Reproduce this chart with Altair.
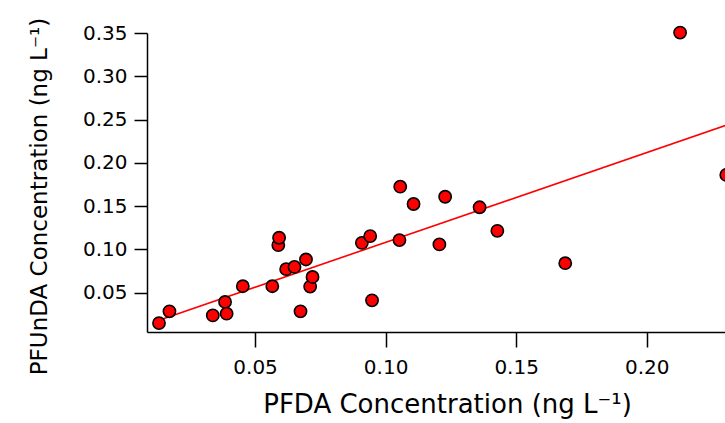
import altair as alt
import pandas as pd

pfda = [0.0132, 0.0172, 0.0338, 0.0385, 0.0391, 0.0453, 0.0566, 0.0589, 0.0592,
        0.0619, 0.0651, 0.0674, 0.0695, 0.0711, 0.0720, 0.0909, 0.0941, 0.0948,
        0.1056, 0.1053, 0.1107, 0.1206, 0.1228, 0.1360, 0.1428, 0.1688, 0.2128, 0.2305]
pfunda = [0.0148, 0.0284, 0.0237, 0.0392, 0.0257, 0.0574, 0.0574, 0.1049, 0.1134,
          0.0771, 0.0797, 0.0284, 0.0883, 0.0570, 0.0681, 0.1075, 0.1153, 0.0411,
          0.1724, 0.1107, 0.1524, 0.1057, 0.1608, 0.1486, 0.1214, 0.0840, 0.3505, 0.1860]

x_ticks = [0.05, 0.10, 0.15, 0.20]
y_ticks = [0.05, 0.10, 0.15, 0.20, 0.25, 0.30, 0.35]

df = pd.DataFrame({"PFDA": pfda, "PFUnDA": pfunda})

FONT = "DejaVu Sans"

xenc = alt.X("PFDA:Q",
             scale=alt.Scale(domain=[0.0086, 0.2300], nice=False, zero=False),
             axis=alt.Axis(values=x_ticks, format=".2f", title="PFDA Concentration (ng L⁻¹)",
                           tickSize=15, labelPadding=10, titlePadding=14,
                           titleFontSize=26, titleX=300))
yenc = alt.Y("PFUnDA:Q",
             scale=alt.Scale(domain=[0.0045, 0.35], nice=False, zero=False),
             axis=alt.Axis(values=y_ticks, format=".2f", title="PFUnDA Concentration (ng L⁻¹)",
                           tickSize=13, labelPadding=7, titlePadding=31,
                           titleFontSize=23, titleY=163))

line = alt.Chart(df).transform_regression("PFDA", "PFUnDA").mark_line(
    color="#ff0000", strokeWidth=1.6, clip=True
).encode(x=xenc, y=yenc)

points = alt.Chart(df).mark_point(
    shape="circle", filled=True, fill="#ff0000", stroke="black",
    strokeWidth=1.6, size=150, opacity=1
).encode(x=xenc, y=yenc)

chart = (line + points).properties(
    width=578, height=299,
    autosize=alt.AutoSizeParams(type="none"),
    padding={"left": 147, "top": 33, "right": 0, "bottom": 91},
).configure_view(stroke=None).configure_axis(
    grid=False, domainColor="black", domainWidth=1.5, tickColor="black", tickWidth=1.5,
    labelFont=FONT, labelFontSize=20, labelColor="black",
    titleFont=FONT, titleFontWeight="normal", titleColor="black",
)

chart.save("out.html", embed_options={"renderer": "svg", "actions": False})
